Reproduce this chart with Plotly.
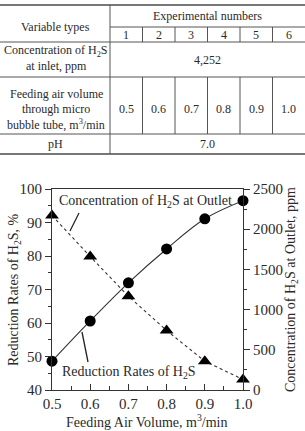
import plotly.graph_objects as go

# ---- data ----
air_volume = [0.5, 0.6, 0.7, 0.8, 0.9, 1.0]
reduction_rate = [48.6, 60.6, 72.0, 82.1, 91.1, 96.5]
outlet_conc = [2170, 1660, 1165, 740, 358, 131]
exp_numbers = [1, 2, 3, 4, 5, 6]
inlet_conc = "4,252"
ph_value = "7.0"

W, H = 305, 431
L, R, T, B = 52, 62, 189, 41
PW, PH = W - L - R, H - T - B
FONT = "Liberation Serif, Times New Roman, serif"
INK = "#2a2a2a"

def px(x):
    return (x - L) / PW

def py(y):
    return (H - B - y) / PH

fig = go.Figure()
fig.add_trace(go.Scatter(
    x=air_volume, y=reduction_rate, mode="lines+markers",
    line=dict(color="#333", width=1.1, shape="spline"),
    marker=dict(symbol="circle", size=11, color="black"),
    showlegend=False, cliponaxis=False))
fig.add_trace(go.Scatter(
    x=air_volume, y=outlet_conc, mode="lines+markers", yaxis="y2",
    line=dict(color="#333", width=1.1, dash="3px,3px"),
    marker=dict(symbol="triangle-up", size=12, color="black"),
    showlegend=False, cliponaxis=False))

shapes = []
ann = []

def hline(x0, x1, y, w=1, c="#555"):
    shapes.append(dict(type="line", xref="paper", yref="paper",
                       x0=px(x0), x1=px(x1), y0=py(y), y1=py(y),
                       line=dict(color=c, width=w)))

def vline(x, y0, y1, w=1, c="#555"):
    shapes.append(dict(type="line", xref="paper", yref="paper",
                       x0=px(x), x1=px(x), y0=py(y0), y1=py(y1),
                       line=dict(color=c, width=w)))

def text(x, y, s, size=12.5, angle=0, xanchor="center"):
    ann.append(dict(xref="paper", yref="paper", x=px(x), y=py(y), text=s,
                    showarrow=False, textangle=angle, xanchor=xanchor, yanchor="middle",
                    font=dict(family=FONT, size=size, color=INK)))

# ---- table ----
col_left = 110
col_w = 32.5
col_edges = [col_left + i * col_w for i in range(len(exp_numbers) + 1)]
hline(0, W, 5, 2, "#777")
hline(col_left, W, 27)
hline(0, W, 42)
hline(0, W, 77)
hline(0, W, 134)
hline(0, W, 154, 2, "#777")
vline(col_left, 5, 154)
for xe in col_edges[1:-1]:
    vline(xe, 27, 42)
    vline(xe, 77, 134)

TS = 12
text(55, 27, "Variable types", TS)
text((col_left + W) / 2, 16, "Experimental numbers", TS)
for i, n in enumerate(exp_numbers):
    cx = (col_edges[i] + col_edges[i + 1]) / 2
    text(cx, 35, str(n), TS)
    text(cx, 109, f"{air_volume[i]:.1f}", TS)
text(56, 51, "Concentration of H<sub>2</sub>S", TS)
text(56, 66, "at inlet, ppm", TS)
text((col_left + W) / 2, 60, inlet_conc, TS)
text(56, 94, "Feeding air volume", TS)
text(56, 109, "through micro", TS)
text(56, 124, "bubble tube, m<sup>3</sup>/min", TS)
text(55, 144, "pH", TS)
text((col_left + W) / 2, 144, ph_value, TS)

# ---- chart annotations ----
text(57, 201, "Concentration of H<sub>2</sub>S at Outlet", size=14, xanchor="left")
text(60, 372, "Reduction Rates of H<sub>2</sub>S", size=14, xanchor="left")
shapes.append(dict(type="line", xref="paper", yref="paper",
                   x0=px(79), y0=py(213), x1=px(70), y1=py(231),
                   line=dict(color="#222", width=1.3)))
shapes.append(dict(type="line", xref="paper", yref="paper",
                   x0=px(82), y0=py(332), x1=px(88), y1=py(362),
                   line=dict(color="#222", width=1.3)))
text(14, 290, "Reduction Rates of H<sub>2</sub>S, %", size=14, angle=-90)
text(291, 290, "Concentration of H<sub>2</sub>S at Outlet, ppm", size=14, angle=-90)
text(147, 421, "Feeding Air Volume, m<sup>3</sup>/min", size=14)

tickfont = dict(family=FONT, size=15, color=INK)
fig.update_layout(
    width=W, height=H, margin=dict(l=L, r=R, t=T, b=B, pad=0),
    paper_bgcolor="white", plot_bgcolor="white",
    font=dict(family=FONT),
    shapes=shapes, annotations=ann,
    xaxis=dict(range=[0.5, 1.0], tickvals=air_volume, ticktext=[f"{v:.1f}" for v in air_volume],
               ticks="inside", ticklen=6, tickcolor="#333", showgrid=False, zeroline=False,
               showline=True, linecolor="#333", linewidth=1, mirror=True,
               minor=dict(ticks="inside", ticklen=4, dtick=0.05, tickcolor="#333"),
               tickfont=tickfont),
    yaxis=dict(range=[40, 100], dtick=10, ticks="outside", ticklen=6, tickcolor="#333",
               showgrid=False, zeroline=False, showline=True, linecolor="#333", linewidth=1,
               minor=dict(ticks="outside", ticklen=3, dtick=5, tickcolor="#333"),
               tickfont=tickfont),
    yaxis2=dict(range=[0, 2500], dtick=500, overlaying="y", side="right",
                ticks="outside", ticklen=6, tickcolor="#333",
                showgrid=False, zeroline=False, showline=True, linecolor="#333", linewidth=1,
                minor=dict(ticks="outside", ticklen=3, dtick=250, tickcolor="#333"),
                tickfont=tickfont),
)

fig.write_html("out.html")
